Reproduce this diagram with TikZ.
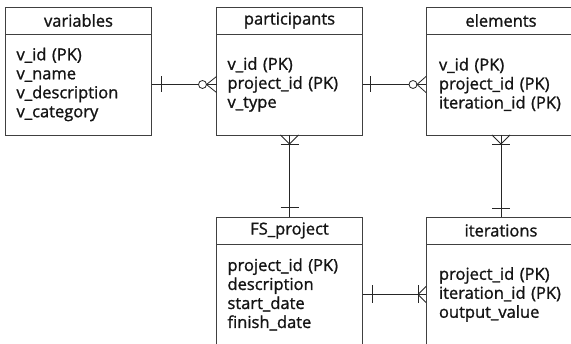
\documentclass[tikz,border=0pt]{standalone}
\usepackage{fontspec}
\setmainfont{Open Sans}[FakeBold=1.2]
\usetikzlibrary{calc}

\definecolor{erline}{RGB}{64,64,64}
\definecolor{ertext}{RGB}{20,20,20}

\begin{document}
\begin{tikzpicture}[
  x=1pt,
  y=1pt,
  every node/.style={outer sep=0pt},
  head/.style={draw=erline, line width=0.8pt, minimum width=146, minimum height=27,
    inner sep=0pt, text=ertext, font=\fontsize{16.5}{19}\selectfont},
  attrs/.style={draw=erline, line width=0.8pt, minimum width=146, minimum height=101,
    inner sep=11, text width=124, align=left, text=ertext,
    font=\fontsize{16.5}{19}\selectfont},
  wide/.style={minimum width=150},
  rel/.style={draw=black!85, line width=0.8pt},
  foot/.style={draw=black!85, line width=0.8pt}
]

  \path[use as bounding box] (0,0) rectangle (571,344);

  % Entities, top row
  \node[head, anchor=north west] (varhead) at (5.5,337) {variables};
  \node[attrs, anchor=north] (varbody) at (varhead.south)
    {v\_id (PK)\\v\_name\\v\_description\\v\_category};

  \node[head, anchor=north west] (parthead) at (216.5,337) {participants};
  \node[attrs, anchor=north] (partbody) at (parthead.south)
    {v\_id (PK)\\project\_id (PK)\\v\_type};

  \node[head, wide, anchor=north west] (elemhead) at (426,337) {elements};
  \node[attrs, wide, anchor=north] (elembody) at (elemhead.south)
    {v\_id (PK)\\project\_id (PK)\\iteration\_id (PK)};

  % Entities, bottom row
  \node[head, anchor=north west] (projhead) at (216.5,127) {FS\_project};
  \node[attrs, anchor=north] (projbody) at (projhead.south)
    {project\_id (PK)\\description\\start\_date\\finish\_date};

  \node[head, wide, anchor=north west] (iterhead) at (426,127) {iterations};
  \node[attrs, wide, anchor=north] (iterbody) at (iterhead.south)
    {project\_id (PK)\\iteration\_id (PK)\\output\_value};

  % variables -- participants (one to zero or many)
  \draw[rel] (varbody.east) -- (partbody.west);
  \draw[foot] ($(varbody.east)+(10,8)$) -- ($(varbody.east)+(10,-8)$);
  \draw[foot, fill=white] ($(partbody.west)+(-14,0)$) circle (4);
  \draw[foot] ($(partbody.west)+(0,8)$) -- ($(partbody.west)+(-10,0)$) -- ($(partbody.west)+(0,-8)$);

  % participants -- elements (one to zero or many)
  \draw[rel] (partbody.east) -- (elembody.west);
  \draw[foot] ($(partbody.east)+(8,8)$) -- ($(partbody.east)+(8,-8)$);
  \draw[foot, fill=white] ($(elembody.west)+(-13,0)$) circle (4);
  \draw[foot] ($(elembody.west)+(0,8)$) -- ($(elembody.west)+(-9,0)$) -- ($(elembody.west)+(0,-8)$);

  % participants -- FS_project (one or many to one)
  \draw[rel] (partbody.south) -- (projhead.north);
  \draw[foot] ($(partbody.south)+(-9,0)$) -- ($(partbody.south)+(0,-9)$) -- ($(partbody.south)+(9,0)$);
  \draw[foot] ($(partbody.south)+(-9,-9)$) -- ($(partbody.south)+(9,-9)$);
  \draw[foot] ($(projhead.north)+(-9,10)$) -- ($(projhead.north)+(9,10)$);

  % elements -- iterations (one or many to one)
  \draw[rel] (elembody.south) -- (iterhead.north);
  \draw[foot] ($(elembody.south)+(-9,0)$) -- ($(elembody.south)+(0,-9)$) -- ($(elembody.south)+(9,0)$);
  \draw[foot] ($(elembody.south)+(-9,-9)$) -- ($(elembody.south)+(9,-9)$);
  \draw[foot] ($(iterhead.north)+(-9,9)$) -- ($(iterhead.north)+(9,9)$);

  % FS_project -- iterations (one to one or many)
  \draw[rel] (projbody.east) -- (iterbody.west);
  \draw[foot] ($(projbody.east)+(10,9)$) -- ($(projbody.east)+(10,-9)$);
  \draw[foot] ($(iterbody.west)+(-8,9)$) -- ($(iterbody.west)+(-8,-9)$);
  \draw[foot] ($(iterbody.west)+(0,8)$) -- ($(iterbody.west)+(-8,0)$) -- ($(iterbody.west)+(0,-8)$);

\end{tikzpicture}
\end{document}
